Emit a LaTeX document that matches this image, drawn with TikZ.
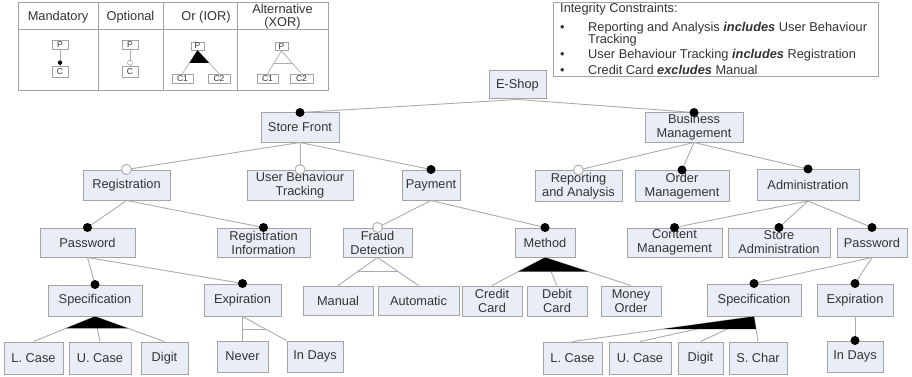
\documentclass[tikz,border=0pt]{standalone}
\usepackage{fontspec}
\setmainfont{Liberation Sans}
\usetikzlibrary{calc}

\definecolor{boxfill}{HTML}{E9EEF6}
\definecolor{boxline}{HTML}{A3A3A3}
\definecolor{linkgray}{HTML}{ABABAB}
\definecolor{txt}{HTML}{333333}
\newcommand{\featfont}{\fontsize{12.8}{14}\selectfont}
\newcommand{\legfont}{\fontsize{8.5}{9}\selectfont}

\begin{document}
\begin{tikzpicture}[x=1pt,y=-1pt,
  fw/.style={minimum width=#1},
  feat/.style={draw=boxline, fill=boxfill, line width=1pt, align=center,
    font=\featfont, text=txt, inner sep=0pt, minimum height=29pt},
  conn/.style={draw=linkgray, line width=0.9pt},
  tbl/.style={draw=boxline, line width=1pt},
  lbox/.style={draw=boxline, fill=white, line width=0.7pt, inner sep=0pt,
    font=\legfont, text=txt},
  head/.style={font=\featfont, text=txt, align=center, inner sep=0pt},
  ictext/.style={font=\featfont, text=txt, inner sep=0pt, anchor=west,
    text height=9pt, text depth=2.5pt},
  orfill/.style={fill=black}
]
\useasboundingbox (0,0) rectangle (912,377);

% ---------- legend table ----------
\draw[tbl, fill=white] (18,3) rectangle (328,91);
\draw[tbl] (18,30) -- (328,30);
\foreach \cx in {98,163,237} \draw[tbl] (\cx,3) -- (\cx,91);
\node[head] (hmand) at (58,17) {Mandatory};
\node[head] (hopt) at (130.5,17) {Optional};
\node[head] (hor) at (206,17) {Or (IOR)};
\node[head, font=\fontsize{12.8}{13}\selectfont] (hxor) at (282.5,16.5) {Alternative\\(XOR)};

\node[lbox, minimum width=16pt, minimum height=9pt] (mP) at (60,44.5) {P};
\node[lbox, minimum width=16pt, minimum height=11pt] (mC) at (60,71.5) {C};
\draw[conn, line width=0.7pt] (mP.south) -- (mC.north);
\fill ($(mC.north)+(0,-3)$) circle (2.2pt);

\node[lbox, minimum width=16pt, minimum height=9pt] (oP) at (130,44.5) {P};
\node[lbox, minimum width=16pt, minimum height=11pt] (oC) at (130,71.5) {C};
\draw[conn, line width=0.7pt] (oP.south) -- (oC.north);
\draw[draw=linkgray, fill=white, line width=0.6pt] ($(oC.north)+(0,-3)$) circle (2.5pt);

\node[lbox, minimum width=13pt, minimum height=8pt] (iP) at (197.5,46) {P};
\node[lbox, minimum width=21pt, minimum height=9pt] (iC1) at (182.5,78.5) {C1};
\node[lbox, minimum width=22pt, minimum height=9pt] (iC2) at (219,78.5) {C2};
\draw[conn, line width=0.7pt] (iP.south) -- (iC1.north) (iP.south) -- (iC2.north);
\fill[orfill] (iP.south) -- ($(iP.south)!0.54!(iC1.north)$) -- ($(iP.south)!0.54!(iC2.north)$) -- cycle;

\node[lbox, minimum width=13pt, minimum height=8pt] (xP) at (281.5,46.5) {P};
\node[lbox, minimum width=21pt, minimum height=9pt] (xC1) at (267.5,78.5) {C1};
\node[lbox, minimum width=23pt, minimum height=9pt] (xC2) at (301.5,78.5) {C2};
\draw[conn, line width=0.7pt] (xP.south) -- (xC1.north) (xP.south) -- (xC2.north);
\draw[conn, line width=0.7pt] ($(xP.south)!0.54!(xC1.north)$) -- ($(xP.south)!0.54!(xC2.north)$);

% ---------- integrity constraints ----------
\draw[tbl, fill=white] (553,3) rectangle (878,77);
\node[ictext] (ic0) at (560,9) {Integrity Constraints:};
\node[ictext] (icb1) at (560,28) {\textbullet};
\node[ictext] (ic1) at (588,28) {Reporting and Analysis \textbf{\textit{includes}} User Behaviour};
\node[ictext] (ic1b) at (588,40.5) {Tracking};
\node[ictext] (icb2) at (560,55) {\textbullet};
\node[ictext] (ic2) at (588,55) {User Behaviour Tracking \textbf{\textit{includes}} Registration};
\node[ictext] (icb3) at (560,71) {\textbullet};
\node[ictext] (ic3) at (588,71) {Credit Card \textbf{\textit{excludes}} Manual};

% ---------- feature tree ----------
\node[feat, fw=57pt, minimum height=28pt] (eshop) at (517.5,85) {E-Shop};

\node[feat, fw=78pt] (sfront) at (300,127.5) {Store Front};
\node[feat, fw=98pt] (bizm) at (694,127.5) {Business\\Management};

\node[feat, fw=87pt, minimum height=30pt] (regist) at (126.5,185) {Registration};
\node[feat, fw=106pt, minimum height=30pt] (ubt) at (300,185) {User Behaviour\\Tracking};
\node[feat, fw=58pt, minimum height=30pt] (pay) at (431,185) {Payment};
\node[feat, fw=87pt, minimum height=31pt] (repan) at (578.5,186) {Reporting\\and Analysis};
\node[feat, fw=94pt, minimum height=31pt] (ordm) at (682,186) {Order\\Management};
\node[feat, fw=102pt, minimum height=31pt] (admin) at (808,185) {Administration};

\node[feat, fw=95pt] (pwdL) at (87.5,242.5) {Password};
\node[feat, fw=93pt] (reginfo) at (263.5,242.5) {Registration\\Information};
\node[feat, fw=69pt] (fraud) at (377.5,242.5) {Fraud\\Detection};
\node[feat, fw=60pt] (method) at (545,242.5) {Method};
\node[feat, fw=95pt] (contm) at (674.5,242.5) {Content\\Management};
\node[feat, fw=102pt] (storea) at (779,242.5) {Store\\Administration};
\node[feat, fw=70pt] (pwdR) at (872,242.5) {Password};

\node[feat, fw=94pt, minimum height=31pt] (specL) at (95,300.5) {Specification};
\node[feat, fw=77pt, minimum height=32pt] (expL) at (242.5,300) {Expiration};
\node[feat, fw=70pt] (manual) at (338,300.5) {Manual};
\node[feat, fw=81pt] (autom) at (418.5,300.5) {Automatic};
\node[feat, fw=60pt, minimum height=30pt] (ccard) at (492,301) {Credit\\Card};
\node[feat, fw=60pt, minimum height=30pt] (dcard) at (557,301) {Debit\\Card};
\node[feat, fw=60pt, minimum height=30pt] (morder) at (631,301) {Money\\Order};
\node[feat, fw=94pt, minimum height=32pt] (specR) at (754,300) {Specification};
\node[feat, fw=76pt, minimum height=32pt] (expR) at (855,300) {Expiration};

\node[feat, fw=59pt, minimum height=32pt] (lcL) at (33.5,358) {L. Case};
\node[feat, fw=62pt, minimum height=32pt] (ucL) at (100,358) {U. Case};
\node[feat, fw=47pt, minimum height=32pt] (digL) at (164.5,358) {Digit};
\node[feat, fw=51pt, minimum height=31pt] (never) at (242.5,356.5) {Never};
\node[feat, fw=56pt, minimum height=31pt] (indL) at (315,356.5) {In Days};
\node[feat, fw=59pt, minimum height=32pt] (lcR) at (572.5,358) {L. Case};
\node[feat, fw=62pt, minimum height=32pt] (ucR) at (640,358) {U. Case};
\node[feat, fw=45pt, minimum height=32pt] (digR) at (700.5,358) {Digit};
\node[feat, fw=58pt, minimum height=32pt] (schar) at (758,358) {S. Char};
\node[feat, fw=56pt, minimum height=31pt] (indR) at (855,356.5) {In Days};

% ---------- connectors ----------
\foreach \p/\c in {eshop/sfront, eshop/bizm,
    sfront/regist, sfront/ubt, sfront/pay,
    bizm/repan, bizm/ordm, bizm/admin,
    regist/pwdL, regist/reginfo,
    pay/fraud, pay/method,
    admin/contm, admin/storea, admin/pwdR,
    pwdL/specL, pwdL/expL, pwdR/specR, pwdR/expR, expR/indR,
    fraud/manual, fraud/autom,
    method/ccard, method/dcard, method/morder,
    specL/lcL, specL/ucL, specL/digL,
    specR/lcR, specR/ucR, specR/digR, specR/schar,
    expL/never}
  \draw[conn] (\p.south) -- (\c.north);
\draw[conn] (expL.south) -- (indL.north west);

% or-groups
\fill[orfill] (specL.south) -- ($(specL.south)!0.47!(lcL.north)$) -- ($(specL.south)!0.47!(digL.north)$) -- cycle;
\fill[orfill] (method.south) -- ($(method.south)!0.5!(ccard.north)$) -- ($(method.south)!0.5!(morder.north)$) -- cycle;
\fill[orfill] (specR.south) -- ($(specR.south)!0.5!(lcR.north)$) -- ($(specR.south)!0.5!(schar.north)$) -- cycle;

% alternative groups
\draw[conn] ($(fraud.south)!0.5!(manual.north)$) -- ($(fraud.south)!0.5!(autom.north)$);
\draw[conn] ($(expL.south)!0.52!(never.north)$) -- ($(expL.south)!0.52!(indL.north west)$);

% mandatory markers
\foreach \c in {sfront, bizm, pay, ordm, admin, pwdL, reginfo, method,
    contm, storea, pwdR, specL, expL, specR, expR, indR}
  \fill (\c.north) circle (4.5pt);
% optional markers
\foreach \c in {regist, ubt, repan, fraud}
  \draw[draw=linkgray, fill=white, line width=0.9pt] (\c.north) circle (5pt);
\end{tikzpicture}
\end{document}
